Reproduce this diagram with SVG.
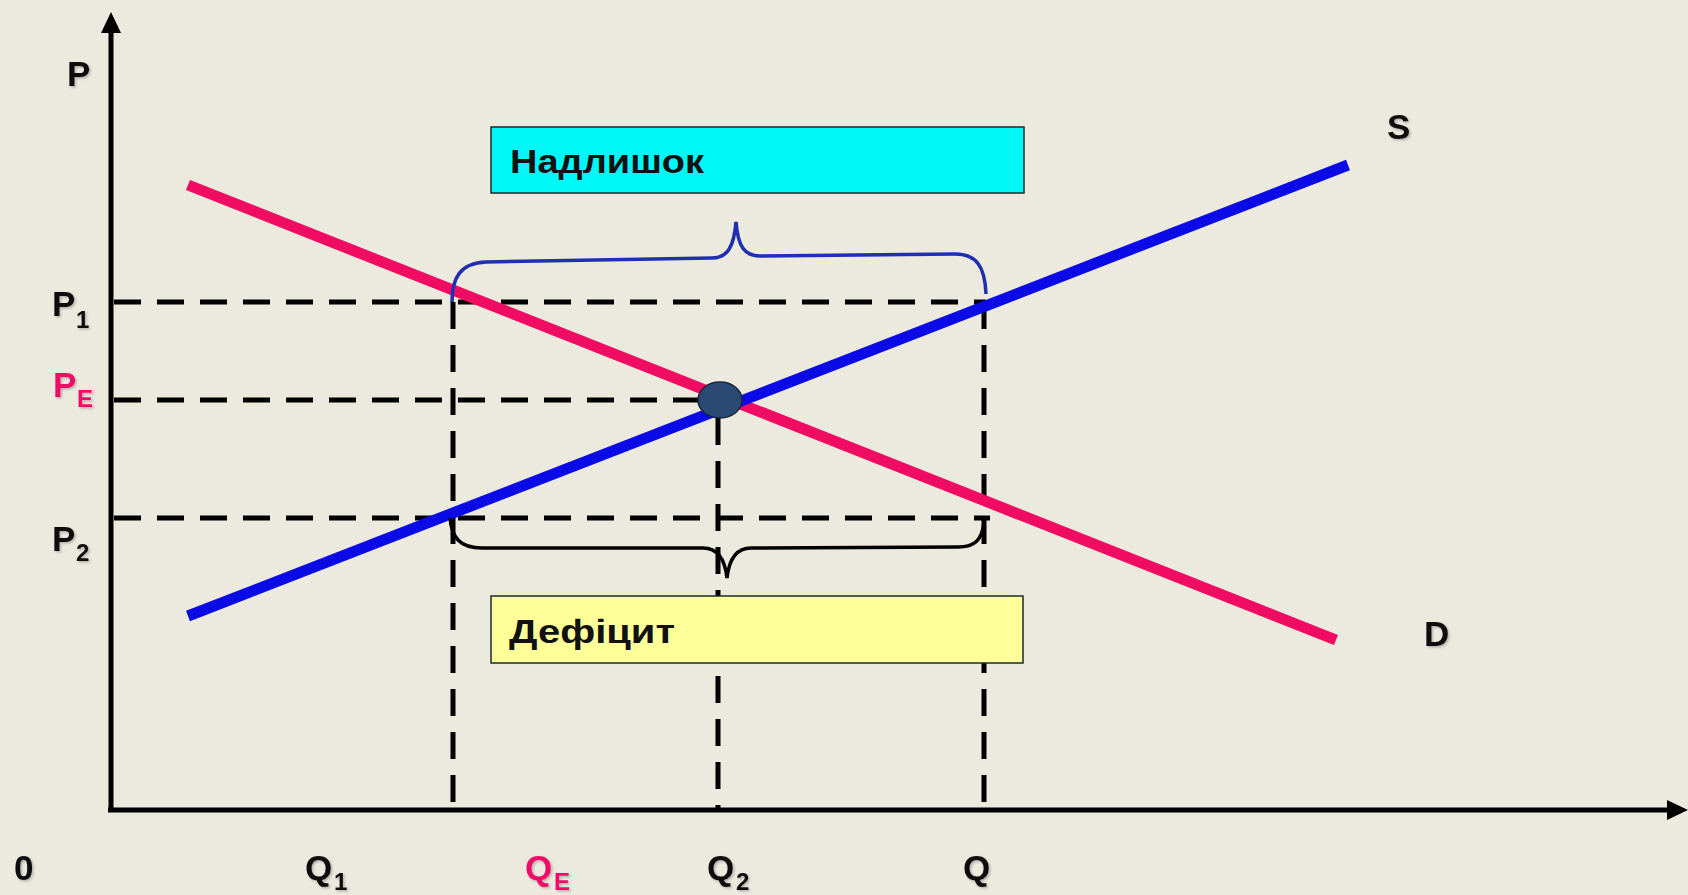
<svg xmlns="http://www.w3.org/2000/svg" width="1688" height="895" viewBox="0 0 1688 895">
<defs>
<style>
.lbl{font-family:"Liberation Sans",Arial,sans-serif;font-weight:bold;fill:#111;}
.big{font-size:35px;}
.sub{font-size:24px;}
.pink{fill:#ee1166;}
.dash{stroke:#000;stroke-width:5;stroke-dasharray:27 16;fill:none;}
.axis{stroke:#000;stroke-width:5;fill:none;}
.box{stroke:#1c2a2a;stroke-width:1.5;}
.boxtxt{font-family:"Liberation Sans",Arial,sans-serif;font-weight:bold;font-size:34px;fill:#111;}
</style>
<filter id="sh" x="-20%" y="-20%" width="140%" height="140%">
<feDropShadow dx="1.5" dy="1.5" stdDeviation="1" flood-color="#000" flood-opacity="0.25"/>
</filter>
</defs>
<rect x="0" y="0" width="1688" height="895" fill="#ece9df"/>

<g id="connectors">
<line class="dash" x1="114" y1="302" x2="986" y2="302"/>
<line class="dash" x1="114" y1="400" x2="700" y2="400"/>
<line class="dash" x1="114" y1="518" x2="990" y2="518"/>
<line class="dash" x1="453" y1="302" x2="453" y2="808"/>
<line class="dash" x1="718" y1="418" x2="718" y2="808"/>
<line class="dash" x1="984" y1="302" x2="984" y2="808"/>
<line id="demand" x1="188" y1="185" x2="1336" y2="640" stroke="#f00c62" stroke-width="11"/>
<line id="supply" x1="188" y1="616" x2="1348" y2="165" stroke="#0a0ae6" stroke-width="11"/>
<path id="brace-surplus" d="M452,302 C452,278 460,263 486,262 L712,258 C728,258 734,246 736,222 C738,246 744,256 760,256 L955,254 C976,254 985,266 986,294" fill="none" stroke="#1f2fb0" stroke-width="3.5"/>
<path id="brace-deficit" d="M450,518 C452,538 460,548 482,548 L703,548 C718,548 725,560 727,578 C729,560 736,548 751,548 L958,547 C975,547 982,540 984,522" fill="none" stroke="#000" stroke-width="3.5"/>
<line class="axis" x1="111" y1="812" x2="111" y2="28"/>
<polygon points="111,12 101,33 121,33" fill="#000"/>
<line class="axis" x1="108" y1="810" x2="1670" y2="810"/>
<polygon points="1688,810 1667,800 1667,820" fill="#000"/>
</g>

<g id="equilibrium">
<ellipse cx="720" cy="400" rx="22" ry="18" fill="#2a4a74" stroke="#1a2638" stroke-width="1.5"/>
</g>

<g id="box-surplus">
<rect class="box" x="491" y="127" width="533" height="66" fill="#00f7f7"/>
<text class="boxtxt" x="510" y="173" textLength="194" lengthAdjust="spacingAndGlyphs">Надлишок</text>
</g>

<g id="box-deficit">
<rect class="box" x="491" y="596" width="532" height="67" fill="#ffff99"/>
<text class="boxtxt" x="509" y="643" textLength="166" lengthAdjust="spacingAndGlyphs">Дефіцит</text>
</g>

<g id="labels" filter="url(#sh)">
<g id="label-P"><text class="lbl big" x="67" y="86">P</text></g>
<g id="label-P1"><text class="lbl big" x="52" y="316">P</text><text class="lbl sub" x="76" y="328">1</text></g>
<g id="label-PE"><text class="lbl big pink" x="53" y="397">P</text><text class="lbl sub pink" x="77" y="407">E</text></g>
<g id="label-P2"><text class="lbl big" x="52" y="551">P</text><text class="lbl sub" x="76" y="561">2</text></g>
<g id="label-0"><text class="lbl big" x="14" y="880">0</text></g>
<g id="label-Q1"><text class="lbl big" x="305" y="880">Q</text><text class="lbl sub" x="334" y="890">1</text></g>
<g id="label-QE"><text class="lbl big pink" x="525" y="880">Q</text><text class="lbl sub pink" x="554" y="890">E</text></g>
<g id="label-Q2"><text class="lbl big" x="707" y="880">Q</text><text class="lbl sub" x="736" y="890">2</text></g>
<g id="label-Q"><text class="lbl big" x="963" y="880">Q</text></g>
<g id="label-S"><text class="lbl big" x="1387" y="139">S</text></g>
<g id="label-D"><text class="lbl big" x="1424" y="646">D</text></g>
</g>
</svg>
